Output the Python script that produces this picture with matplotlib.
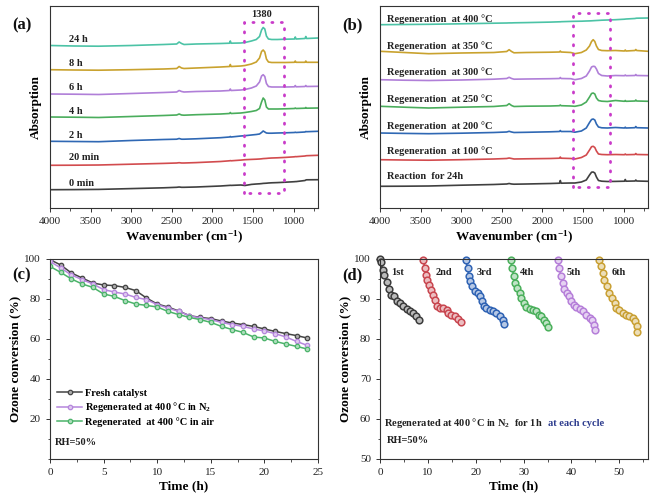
import matplotlib
matplotlib.use('Agg')
import matplotlib.pyplot as plt
from matplotlib.ticker import MultipleLocator, NullLocator
from matplotlib.colors import to_rgb

plt.rcParams['font.family'] = ['Liberation Serif', 'DejaVu Serif']
plt.rcParams['font.size'] = 8
plt.rcParams['mathtext.fontset'] = 'custom'
plt.rcParams['mathtext.rm'] = 'Liberation Serif:bold'
plt.rcParams['mathtext.it'] = 'Liberation Serif:bold'
plt.rcParams['mathtext.bf'] = 'Liberation Serif:bold'
plt.rcParams['axes.unicode_minus'] = False

# ---------------- data ----------------
# wavenumber grid (cm-1) used for the FTIR traces of (a) and (b)
wn = [4000, 3700, 3400, 3000, 2600, 2440, 2410, 2380, 2350, 2200, 1900, 1790, 1780, 1770,
      1650, 1600, 1520, 1460, 1420, 1395, 1375, 1355, 1335, 1310, 1270, 1200, 1100, 990,
      980, 970, 860, 850, 840, 700]

# (a) traces, stacked absorption (offset units)
a_labels = ['0 min', '20 min', '2 h', '4 h', '6 h', '8 h', '24 h']
a_0min = [18.3, 18.4, 18.6, 19.4, 20.2, 20.7, 21.0, 20.7, 20.7, 21.0, 22.0, 22.6, 22.7, 22.6,
          23.0, 22.5, 23.6, 24.0, 24.2, 24.4, 24.6, 24.7, 24.8, 25.0, 25.2, 25.4, 25.8, 26.3,
          26.4, 26.4, 27.5, 28.0, 28.2, 28.3]
a_20min = [42.7, 42.8, 43.0, 43.8, 44.6, 45.0, 45.3, 45.0, 45.0, 45.4, 46.5, 47.2, 47.4, 47.2,
           47.9, 48.3, 48.6, 48.8, 49.0, 49.2, 49.4, 49.5, 49.6, 49.8, 50.0, 50.2, 50.6, 51.2,
           51.4, 51.3, 52.0, 52.2, 52.3, 52.7]
a_2h = [66.7, 66.5, 66.3, 67.5, 68.5, 68.8, 69.5, 68.8, 68.8, 69.2, 70.3, 71.0, 71.5, 71.0,
        72.0, 72.3, 73.0, 73.5, 74.0, 75.5, 77.0, 76.0, 75.0, 74.8, 74.8, 75.0, 75.2, 75.5,
        75.8, 75.5, 76.0, 76.5, 76.3, 76.7]
a_4h = [91.0, 90.8, 90.5, 91.5, 92.5, 93.0, 94.0, 93.0, 92.8, 93.3, 94.0, 94.5, 95.5, 94.5,
        95.0, 95.5, 96.5, 97.5, 99.5, 106.0, 110.0, 108.0, 101.0, 99.0, 99.0, 99.0, 99.2, 99.5,
        100.0, 99.5, 99.8, 100.5, 99.8, 100.0]
a_6h = [114.0, 113.8, 113.5, 114.5, 115.5, 116.0, 117.5, 116.5, 116.0, 116.5, 117.0, 117.5, 119.0, 117.5,
        118.0, 118.5, 120.0, 122.0, 126.0, 132.0, 133.3, 131.5, 124.5, 121.5, 121.0, 121.0, 121.0, 121.2,
        122.5, 121.2, 121.5, 122.5, 121.5, 121.7]
a_8h = [138.3, 138.0, 137.8, 138.3, 139.0, 139.5, 141.5, 140.0, 139.5, 140.0, 141.0, 141.5, 143.5, 141.5,
        142.0, 142.5, 144.0, 146.0, 150.0, 156.5, 158.0, 156.0, 149.0, 146.0, 145.5, 145.5, 145.5, 145.7,
        147.0, 145.7, 145.7, 147.0, 145.7, 145.7]
a_24h = [162.5, 162.0, 161.8, 162.5, 163.5, 164.0, 166.0, 164.5, 163.5, 164.0, 164.5, 164.8, 167.0, 164.8,
         165.0, 165.5, 167.0, 168.5, 171.5, 178.0, 180.5, 179.0, 172.0, 169.0, 168.5, 168.5, 168.8, 169.0,
         171.0, 169.0, 169.5, 171.5, 169.5, 170.0]

# (b) traces
b_labels = ['Reaction  for 24h', 'Regeneration  at 100 °C', 'Regeneration  at 200 °C',
            'Regeneration  at 250 °C', 'Regeneration  at 300 °C', 'Regeneration  at 350 °C',
            'Regeneration  at 400 °C']
b_react = [21.7, 21.8, 22.0, 22.8, 23.5, 24.0, 24.5, 24.0, 23.8, 24.0, 24.5, 24.8, 27.5, 24.8,
           25.0, 25.0, 26.0, 28.0, 33.0, 35.8, 36.0, 35.0, 31.0, 27.5, 26.8, 26.5, 26.6, 26.8,
           28.5, 26.8, 27.0, 28.0, 27.0, 26.7]
b_100 = [48.3, 48.0, 47.8, 48.3, 49.0, 49.5, 50.0, 49.5, 49.0, 49.2, 49.5, 49.8, 51.0, 49.8,
         49.5, 49.0, 50.5, 53.0, 58.0, 61.3, 61.7, 60.5, 57.0, 54.0, 53.5, 53.3, 53.5, 53.3,
         54.0, 53.3, 53.5, 54.5, 53.5, 53.3]
b_200 = [75.0, 74.6, 74.3, 74.8, 75.5, 76.0, 76.7, 76.0, 75.5, 75.7, 76.2, 76.5, 77.5, 76.5,
         76.5, 75.8, 77.0, 80.0, 85.5, 88.5, 89.0, 88.0, 84.0, 81.0, 80.2, 80.0, 80.5, 80.0,
         80.8, 80.0, 80.3, 81.5, 80.3, 80.0]
b_250 = [101.7, 100.8, 100.0, 100.8, 101.5, 102.5, 104.3, 102.5, 101.5, 101.8, 102.0, 102.3, 103.0, 102.3,
         102.0, 101.7, 103.0, 106.0, 111.0, 114.5, 115.0, 114.0, 110.0, 107.5, 106.8, 106.5, 107.5, 106.7,
         107.5, 106.7, 107.0, 108.0, 107.0, 106.7]
b_300 = [128.3, 127.8, 127.5, 128.0, 128.8, 129.5, 130.7, 129.5, 128.8, 129.0, 129.3, 129.5, 130.5, 129.5,
         129.3, 128.3, 129.5, 132.0, 137.0, 141.0, 141.7, 141.5, 139.0, 134.5, 132.5, 132.0, 132.5, 132.3,
         133.0, 132.3, 132.5, 133.5, 132.5, 132.3]
b_350 = [156.7, 155.5, 154.3, 155.0, 155.5, 156.5, 158.3, 156.5, 155.2, 155.5, 155.8, 156.0, 157.0, 156.0,
         155.5, 154.3, 155.5, 158.0, 162.0, 166.5, 168.3, 166.5, 162.0, 158.5, 157.5, 157.3, 157.5, 157.0,
         158.0, 157.0, 157.5, 158.5, 157.5, 156.7]
b_400 = [183.3, 183.5, 183.7, 184.2, 184.8, 185.0, 185.1, 185.1, 185.2, 185.4, 185.9, 186.2, 186.2, 186.3,
         186.6, 186.7, 186.8, 187.0, 187.1, 187.2, 187.3, 187.4, 187.5, 187.6, 187.8, 188.0, 188.3, 188.8,
         188.9, 189.0, 189.5, 189.7, 189.8, 190.0]

# (c) ozone conversion vs time, hourly
c_time = list(range(0, 25))
c_fresh = [99.7, 97.0, 93.0, 90.5, 88.0, 87.0, 86.7, 85.8, 84.2, 80.5, 77.5, 76.0, 74.0, 71.7,
           70.8, 70.2, 69.0, 68.0, 67.2, 66.3, 65.0, 63.8, 62.7, 61.7, 60.5]
c_n2 = [98.8, 95.5, 92.0, 89.7, 87.5, 84.7, 83.5, 82.5, 80.8, 79.7, 77.2, 75.5, 73.8, 71.7,
        70.5, 69.7, 68.3, 67.2, 66.3, 65.0, 64.0, 62.7, 61.0, 58.8, 56.8]
c_air = [96.3, 93.3, 90.0, 87.5, 85.8, 82.5, 81.3, 79.2, 77.5, 76.8, 76.0, 73.8, 72.2, 70.8,
         69.7, 68.3, 66.3, 64.7, 63.3, 61.0, 60.5, 58.8, 57.5, 56.3, 55.0]
c_labels = ['Fresh catalyst', 'Regenerated at 400 °C in N$_2$', 'Regenerated  at 400 °C in air']

# (d) six cycles
d_labels = ['1st', '2nd', '3rd', '4th', '5th', '6th']
d_t1 = [0.0, 0.2, 0.55, 0.9, 1.4, 1.9, 2.4, 3.0, 3.5, 4.2, 4.9, 5.6, 6.25, 6.9, 7.6, 8.2]
d_y1 = [100.0, 99.2, 97.3, 96.0, 94.2, 92.5, 91.0, 90.7, 89.4, 89.0, 88.2, 87.5, 86.9, 86.5, 85.7, 84.8]
d_t2 = [9.0, 9.4, 9.7, 9.9, 10.2, 10.6, 11.0, 11.5, 11.9, 12.5, 13.2, 13.9, 14.2, 14.9, 15.6, 16.3, 17.0]
d_y2 = [99.8, 97.7, 96.0, 94.8, 93.6, 92.3, 91.1, 89.8, 88.2, 87.8, 87.8, 87.3, 86.5, 86.1, 85.7, 85.0, 84.2]
d_t3 = [17.9, 18.3, 18.6, 18.9, 19.3, 19.8, 20.5, 21.0, 21.4, 21.7, 22.2, 22.9, 23.6, 24.3, 25.0, 25.6, 26.0]
d_y3 = [99.8, 97.7, 95.7, 94.4, 93.2, 91.9, 91.5, 90.7, 89.4, 88.2, 87.8, 87.3, 86.9, 86.5, 85.7, 84.8, 83.8]
d_t4 = [27.3, 27.6, 28.0, 28.3, 28.7, 29.2, 29.5, 30.0, 30.6, 31.3, 31.9, 32.6, 33.2, 33.7, 34.2, 34.7, 35.1]
d_y4 = [99.8, 97.7, 95.7, 94.0, 92.8, 91.5, 90.3, 89.0, 88.0, 87.6, 87.3, 86.9, 86.1, 85.7, 84.8, 84.0, 83.0]
d_t5 = [37.2, 37.5, 37.8, 38.2, 38.5, 39.0, 39.4, 39.9, 40.5, 41.0, 41.7, 42.4, 43.1, 43.8, 44.4, 44.8, 44.9]
d_y5 = [99.8, 97.7, 95.7, 94.0, 92.5, 91.5, 90.7, 89.4, 88.6, 88.0, 87.5, 86.9, 86.1, 85.3, 84.8, 83.6, 82.3]
d_t6 = [45.8, 46.2, 46.5, 46.9, 47.4, 47.9, 48.5, 49.0, 49.4, 50.0, 50.7, 51.4, 52.1, 52.8, 53.3, 53.6, 53.8]
d_y6 = [99.8, 98.2, 96.5, 94.8, 93.2, 91.5, 90.3, 89.0, 87.8, 87.2, 86.5, 86.1, 85.7, 85.3, 84.4, 83.3, 81.7]

# ---------------- figure ----------------
fig = plt.figure(figsize=(6.61, 5.03), dpi=100)
W, H = 661, 503


def add_ax(x0, y0, x1, y1):
    return fig.add_axes([x0 / W, 1 - y1 / H, (x1 - x0) / W, (y1 - y0) / H])


axa = add_ax(50, 6, 318, 208)
axb = add_ax(380, 6, 648, 208)
axc = add_ax(50, 259, 318, 459)
axd = add_ax(380, 259, 648, 459)

spec_colors = ['#404040', '#d24b4e', '#2f68b4', '#4aad5c', '#b07fd8', '#c9a22e', '#4cc3a6']


def light(c, f=0.55):
    r, g, b = to_rgb(c)
    return (r + (1 - r) * f, g + (1 - g) * f, b + (1 - b) * f)


def style_axis(ax):
    for s in ax.spines.values():
        s.set_color('#333333')
        s.set_linewidth(0.8)
    ax.tick_params(which='both', direction='out', colors='#333333', labelcolor='#222222', labelsize=8)
    ax.tick_params(which='major', length=3, width=0.7)
    ax.tick_params(which='minor', length=1.8, width=0.6)


# ---- (a) and (b) spectra ----
def spectra(ax, traces, labels, lab_y, box, tag):
    for tr, c in zip(traces, spec_colors):
        ax.plot(wn, tr, color=c, lw=1.2)
    for lb, y in zip(labels, lab_y):
        ax.text(lab_x[tag], y, lb, fontsize=7.5, fontweight='bold', color='#222222', va='center', ha='left')
    x0, x1, y0, y1 = box
    # dotted highlight box around the 1380 band
    ax.plot([x0, x0, x1, x1, x0], [y0, y1, y1, y0, y0], color='#c93bc9', lw=2.0,
            linestyle=(0, (0.4, 3.0)), dash_capstyle='round')
    ax.set_xlim(4000, 700)
    ax.set_ylim(0, 202)
    ax.xaxis.set_major_locator(MultipleLocator(500))
    ax.xaxis.set_minor_locator(MultipleLocator(250))
    ax.yaxis.set_major_locator(NullLocator())
    ax.set_xlabel('Wavenumber (cm$^{-1}$)', fontsize=9.5, fontweight='bold', labelpad=2)
    ax.set_ylabel('Absorption', fontsize=9.5, fontweight='bold', labelpad=6)
    style_axis(ax)


lab_x = {'a': 3760, 'b': 3915}
spectra(axa, [a_0min, a_20min, a_2h, a_4h, a_6h, a_8h, a_24h], a_labels,
        [25, 51, 72, 96, 120, 145, 168], (1617, 1115, 14.7, 186), 'a')
axa.text(1390, 193, '1380', fontsize=7.5, fontweight='bold', ha='center', va='center', color='#222222')

spectra(axb, [b_react, b_100, b_200, b_250, b_300, b_350, b_400], b_labels,
        [31.3, 57, 82, 109, 136.3, 162, 189], (1629, 1164, 21.3, 195.3), 'b')

# ---- (c) ----
c_colors = ['#444444', '#b586dc', '#4bb36a']
for ys, c, lb in zip([c_fresh, c_n2, c_air], c_colors, c_labels):
    axc.plot(c_time, ys, color=c, lw=1.1, marker='o', ms=3.2, mfc=light(c), mec=c, mew=0.9, label=lb)
axc.set_xlim(0, 25)
axc.set_ylim(0, 100)
axc.xaxis.set_major_locator(MultipleLocator(5))
axc.xaxis.set_minor_locator(MultipleLocator(2.5))
axc.set_yticks([20, 40, 60, 80, 100])
axc.yaxis.set_minor_locator(MultipleLocator(10))
leg = axc.legend(loc='upper left', bbox_to_anchor=(0.0, 0.39), frameon=False, handlelength=2.4,
                 handletextpad=0.3, labelspacing=0.25, borderaxespad=0.3,
                 prop={'weight': 'bold', 'size': 7.5, 'family': 'Liberation Serif'})
axc.text(0.5, 8.3, 'RH=50%', fontsize=7.5, fontweight='bold', va='center', color='#222222')
axc.set_xlabel('Time (h)', fontsize=9.5, fontweight='bold', labelpad=2)
axc.set_ylabel('Ozone conversion (%)', fontsize=9.5, fontweight='bold', labelpad=2)
style_axis(axc)

# ---- (d) ----
d_colors = ['#3c3c3c', '#c8464f', '#2f63b4', '#4bb05c', '#b67fd9', '#c9a033']
d_ts = [d_t1, d_t2, d_t3, d_t4, d_t5, d_t6]
d_ys = [d_y1, d_y2, d_y3, d_y4, d_y5, d_y6]
d_lab_x = [2.4, 11.7, 20.1, 29.3, 39.0, 48.5]
for t, y, c, lb, lx in zip(d_ts, d_ys, d_colors, d_labels, d_lab_x):
    axd.plot(t, y, color=c, lw=1.2, marker='o', ms=4.8, mfc=light(c, 0.65), mec=c, mew=1.1, clip_on=False)
    axd.text(lx, 96.7, lb, fontsize=7.5, fontweight='bold', va='center', color='#222222')
axd.set_xlim(0, 56)
axd.set_ylim(50, 100)
axd.xaxis.set_major_locator(MultipleLocator(10))
axd.xaxis.set_minor_locator(MultipleLocator(5))
axd.yaxis.set_major_locator(MultipleLocator(10))
axd.yaxis.set_minor_locator(MultipleLocator(5))
t1 = axd.text(0.8, 59, 'Regenerated at 400 °C in N$_2$  for 1h', fontsize=7.5, fontweight='bold',
              va='center', color='#222222')
axd.annotate('at each cycle', xy=(1, 0.5), xycoords=t1, xytext=(4, 0), textcoords='offset points',
             va='center', ha='left', fontsize=7.5, fontweight='bold', color='#2d3c8e')
axd.text(1.4, 54.6, 'RH=50%', fontsize=7.5, fontweight='bold', va='center', color='#222222')
axd.set_xlabel('Time (h)', fontsize=9.5, fontweight='bold', labelpad=2)
axd.set_ylabel('Ozone conversion (%)', fontsize=9.5, fontweight='bold', labelpad=2)
style_axis(axd)

# panel tags
for x, y, s in [(22, 25, '(a)'), (352, 25, '(b)'), (22, 275, '(c)'), (352, 275, '(d)')]:
    fig.text(x / W, 1 - y / H, s, fontsize=12, fontweight='bold', ha='center', va='center', color='#111111')

fig.savefig('out.png', dpi=100)
